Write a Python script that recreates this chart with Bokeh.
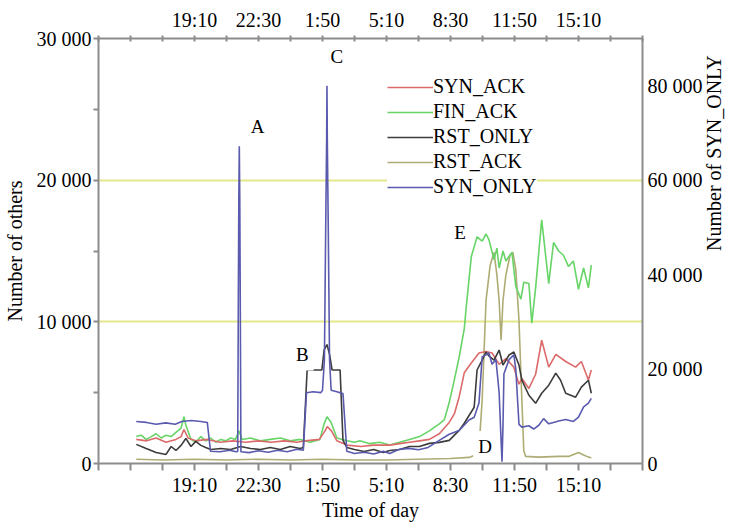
import math
from bokeh.plotting import figure
from bokeh.models import (Range1d, LinearAxis, FixedTicker, Legend, LegendItem,
                          Label, ColumnDataSource)
from bokeh.embed import file_html
from bokeh.resources import INLINE

FONT = "'Liberation Serif', 'Times New Roman', serif"

# x values are minutes since 14:10 of the first day
tick_positions = list(range(0, 1701, 100))
time_label_pos = [300, 500, 700, 900, 1100, 1300, 1500]
time_labels = ["19:10", "22:30", "1:50", "5:10", "8:30", "11:50", "15:10"]

left_label_pos = [0, 10000, 20000, 30000]
left_labels = ["0", "10 000", "20 000", "30 000"]
right_label_pos = [0, 20000, 40000, 60000, 80000]
right_labels = ["0", "20 000", "40 000", "60 000", "80 000"]

series_names = ["SYN_ACK", "FIN_ACK", "RST_ONLY", "RST_ACK", "SYN_ONLY"]

syn_ack_t = [118, 150, 180, 211, 242, 258, 267, 280, 304, 340, 380, 420, 460, 500, 540,
             580, 620, 646, 690, 705, 715, 728, 745, 776, 820, 860, 910, 941, 972, 1003,
             1034, 1065, 1096, 1112, 1127, 1143, 1165, 1189, 1211, 1230, 1252, 1273, 1298,
             1314, 1323, 1345, 1366, 1385, 1407, 1429, 1460, 1491, 1509, 1531, 1540]
syn_ack_v = [1700, 1600, 1800, 1500, 1700, 1900, 2400, 1800, 1600, 1700, 1500, 1600, 1500,
             1600, 1500, 1600, 1500, 1600, 1700, 2200, 2600, 2300, 1600, 1300, 1200, 1300,
             1300, 1400, 1500, 1600, 1700, 2100, 2900, 3500, 4700, 6400, 7100, 7800, 7900,
             7800, 7000, 7400, 6800, 5600, 6000, 5300, 6300, 8700, 6800, 7700, 7200, 6800,
             7200, 5900, 6600]

fin_ack_t = [118, 133, 149, 165, 180, 196, 211, 227, 242, 258, 267, 273, 289, 304, 320, 335,
             351, 366, 382, 397, 413, 428, 439, 449, 475, 506, 537, 568, 599, 630, 661, 692,
             705, 714, 727, 745, 776, 801, 817, 848, 879, 910, 941, 972, 1003, 1034, 1065,
             1081, 1096, 1112, 1127, 1143, 1149, 1165, 1183, 1199, 1211, 1220, 1236, 1245,
             1252, 1264, 1273, 1292, 1304, 1320, 1329, 1345, 1354, 1366, 1385, 1407, 1422,
             1438, 1453, 1469, 1484, 1500, 1516, 1531, 1540]
fin_ack_v = [1900, 2000, 1700, 1900, 2100, 1800, 2000, 1900, 2200, 2500, 3300, 2700, 1700,
             1500, 1900, 1600, 1800, 1500, 1700, 1600, 1800, 1700, 2300, 1700, 1800, 1600,
             1700, 1800, 1600, 1700, 1500, 1700, 2800, 3300, 2900, 1800, 1600, 1500, 1600,
             1400, 1500, 1300, 1500, 1700, 1900, 2300, 2800, 3100, 4300, 5900, 7500, 9500,
             11000, 14600, 16000, 15700, 16200, 15800, 14400, 15200, 13800, 15000, 14300,
             14900, 12500, 11600, 12800, 12700, 9900, 12400, 17200, 12700, 15600, 15000,
             14700, 13900, 14300, 12300, 13800, 12400, 14000]

rst_only_t = [118, 149, 180, 211, 227, 242, 258, 273, 289, 304, 320, 335, 351, 382, 413,
              444, 475, 506, 537, 568, 599, 630, 640, 652, 698, 705, 714, 722, 730, 755,
              764, 776, 800, 830, 860, 890, 910, 941, 972, 1003, 1034, 1065, 1096, 1127,
              1143, 1174, 1183, 1199, 1211, 1220, 1236, 1252, 1264, 1283, 1298, 1314, 1323,
              1345, 1366, 1385, 1407, 1429, 1444, 1460, 1491, 1509, 1531, 1540]
rst_only_v = [1350, 1060, 780, 640, 1200, 920, 1280, 1770, 1200, 1560, 1280, 1130, 990,
              1060, 990, 1200, 1060, 990, 1130, 990, 1200, 1060, 1130, 6600, 6600, 8000,
              8400, 7700, 6600, 6600, 1630, 1130, 990, 850, 990, 780, 920, 990, 1200, 1200,
              1420, 1490, 1630, 2340, 2840, 3970, 6600, 7300, 7870, 7590, 7300, 8010, 6950,
              7660, 7870, 6950, 5880, 4820, 4250, 4960, 5530, 6380, 5880, 4960, 4680, 5390,
              5880, 4960]

rst_ack_t = [118, 200, 300, 400, 500, 600, 700, 800, 900, 1000, 1100, 1158, 1174, 1189,
             1199, 1211, 1224, 1236, 1245, 1252, 1258, 1264, 1273, 1286, 1295, 1304, 1314,
             1323, 1329, 1335, 1376, 1438, 1469, 1500, 1516, 1531, 1540]
rst_ack_v = [300, 250, 300, 250, 300, 250, 300, 250, 250, 300, 350, 430, 570, 1060, 4500,
             11500, 14000, 14900, 13300, 11500, 8700, 11500, 13300, 14700, 14900, 13700,
             10100, 4500, 900, 500, 450, 500, 500, 780, 600, 450, 400]

syn_only_t = [118, 150, 180, 210, 240, 260, 290, 320, 340, 350, 380, 410, 430, 435, 437,
              438.5, 440, 441.5, 443, 445, 470, 500, 530, 560, 590, 620, 640, 650, 670, 695,
              700, 706, 710, 713, 714, 715, 718, 722, 727, 745, 764, 776, 800, 830, 860, 890,
              910, 940, 970, 1000, 1030, 1065, 1096, 1127, 1158, 1174, 1189, 1199, 1211,
              1220, 1230, 1242, 1252, 1258, 1261, 1264, 1267, 1283, 1298, 1304, 1314, 1323,
              1345, 1360, 1376, 1391, 1407, 1422, 1438, 1460, 1484, 1500, 1516, 1531, 1540]
syn_only_v = [8900, 8700, 8300, 8600, 8300, 8900, 9100, 8900, 8700, 2600, 2500, 2800, 2500,
              2550, 35000, 56000, 67200, 56000, 35000, 2500, 2300, 2700, 2400, 2800, 2500,
              3000, 2800, 15000, 15200, 15000, 15500, 22000, 50000, 69000, 80000, 69000,
              50000, 22000, 15500, 15200, 14800, 2600, 2100, 2400, 2000, 2600, 2100, 3000,
              3200, 2900, 3400, 4900, 6200, 7000, 9200, 9800, 12800, 22600, 23000, 23400,
              21000, 22000, 15000, 5000, 400, 8000, 19000, 22000, 23000, 20000, 8300, 7700,
              8000, 7300, 8100, 9500, 8400, 8700, 9000, 9300, 8900, 9800, 12000, 12800, 13800]

colors = {"SYN_ACK": "#dc6a6a", "FIN_ACK": "#66d466", "RST_ONLY": "#3c3c3c",
          "RST_ACK": "#aeac74", "SYN_ONLY": "#5a5aae"}

p = figure(width=738, height=528, output_backend="svg", toolbar_location=None,
           x_range=Range1d(0, 1700), y_range=Range1d(0, 30000),
           min_border_left=97, min_border_right=93, min_border_top=38,
           min_border_bottom=65, background_fill_color="white",
           border_fill_color="white")
p.extra_y_ranges = {"syn": Range1d(0, 90000)}
p.outline_line_color = None
p.xgrid.visible = False
p.ygrid.ticker = FixedTicker(ticks=[10000, 20000])
p.ygrid.grid_line_color = "#e4e88c"
p.ygrid.grid_line_width = 2

AX_COL = "#8c8c8c"

def style_axis(ax):
    ax.axis_line_color = AX_COL
    ax.axis_line_width = 2
    ax.major_tick_line_color = AX_COL
    ax.major_tick_line_width = 2
    ax.minor_tick_line_color = None
    ax.major_label_text_font = FONT
    ax.major_label_text_font_size = "20px"
    ax.major_label_text_color = "black"
    ax.axis_label_text_font = FONT
    ax.axis_label_text_font_size = "20px"
    ax.axis_label_text_font_style = "normal"
    ax.axis_label_text_color = "black"

xlabels = {t: "" for t in tick_positions}
for pos, lab in zip(time_label_pos, time_labels):
    xlabels[pos] = lab

bottom = p.xaxis[0]
style_axis(bottom)
bottom.ticker = FixedTicker(ticks=tick_positions)
bottom.major_label_overrides = xlabels
bottom.major_tick_in = 0
bottom.major_tick_out = 7
bottom.major_label_standoff = 3
bottom.axis_label = "Time of day"
bottom.axis_label_standoff = 0

top = LinearAxis(ticker=FixedTicker(ticks=tick_positions), major_label_overrides=xlabels)
style_axis(top)
top.major_tick_in = 3
top.major_tick_out = 3
top.major_label_standoff = 5
p.add_layout(top, "above")

left = p.yaxis[0]
style_axis(left)
left.ticker = FixedTicker(ticks=list(range(0, 30001, 5000)))
ylabels = {t: "" for t in range(0, 30001, 5000)}
for pos, lab in zip(left_label_pos, left_labels):
    ylabels[pos] = lab
left.major_label_overrides = ylabels
left.major_tick_in = 0
left.major_tick_out = 5
left.major_label_standoff = 2
left.axis_label = "Number of others"
left.axis_label_standoff = 8

right = LinearAxis(y_range_name="syn", ticker=FixedTicker(ticks=right_label_pos),
                   major_label_overrides=dict(zip(right_label_pos, right_labels)))
style_axis(right)
right.major_tick_line_color = None
right.major_tick_in = 0
right.major_tick_out = 0
right.major_label_standoff = 5
right.axis_label = "Number of SYN_ONLY"
right.axis_label_standoff = 8
right.axis_label_orientation = math.pi / 2
p.add_layout(right, "right")

data = {
    "SYN_ACK": (syn_ack_t, syn_ack_v, "default"),
    "FIN_ACK": (fin_ack_t, fin_ack_v, "default"),
    "RST_ONLY": (rst_only_t, rst_only_v, "default"),
    "RST_ACK": (rst_ack_t, rst_ack_v, "default"),
    "SYN_ONLY": (syn_only_t, syn_only_v, "syn"),
}

renderers = {}
for name in ["RST_ACK", "FIN_ACK", "SYN_ACK", "RST_ONLY", "SYN_ONLY"]:
    t, v, rng = data[name]
    src = ColumnDataSource(dict(t=t, v=v))
    r = p.line("t", "v", source=src, line_color=colors[name], line_width=1.6,
               y_range_name=rng)
    renderers[name] = r

items = [LegendItem(label=n, renderers=[renderers[n]]) for n in series_names]
legend = Legend(items=items, location=(289, 265), background_fill_color="white",
                background_fill_alpha=1.0, border_line_color=None, padding=0, margin=0,
                spacing=2, glyph_width=46, glyph_height=20, label_height=20,
                label_standoff=0, label_text_font=FONT, label_text_font_size="20px",
                label_text_color="black")
p.add_layout(legend)

def note(x, y, text, bg):
    lab = Label(x=x, y=y, text=text, text_font=FONT, text_font_size="19px",
                text_align="center", text_baseline="middle", text_color="black")
    if bg:
        lab.background_fill_color = "white"
        lab.background_fill_alpha = 1.0
        lab.padding = 5
    p.add_layout(lab)

note(497, 23820, "A", False)
note(637, 7660, "B", True)
note(745, 28710, "C", False)
note(1208, 1200, "D", True)
note(1130, 16300, "E", True)

open("out.html", "w").write(file_html(p, INLINE))
